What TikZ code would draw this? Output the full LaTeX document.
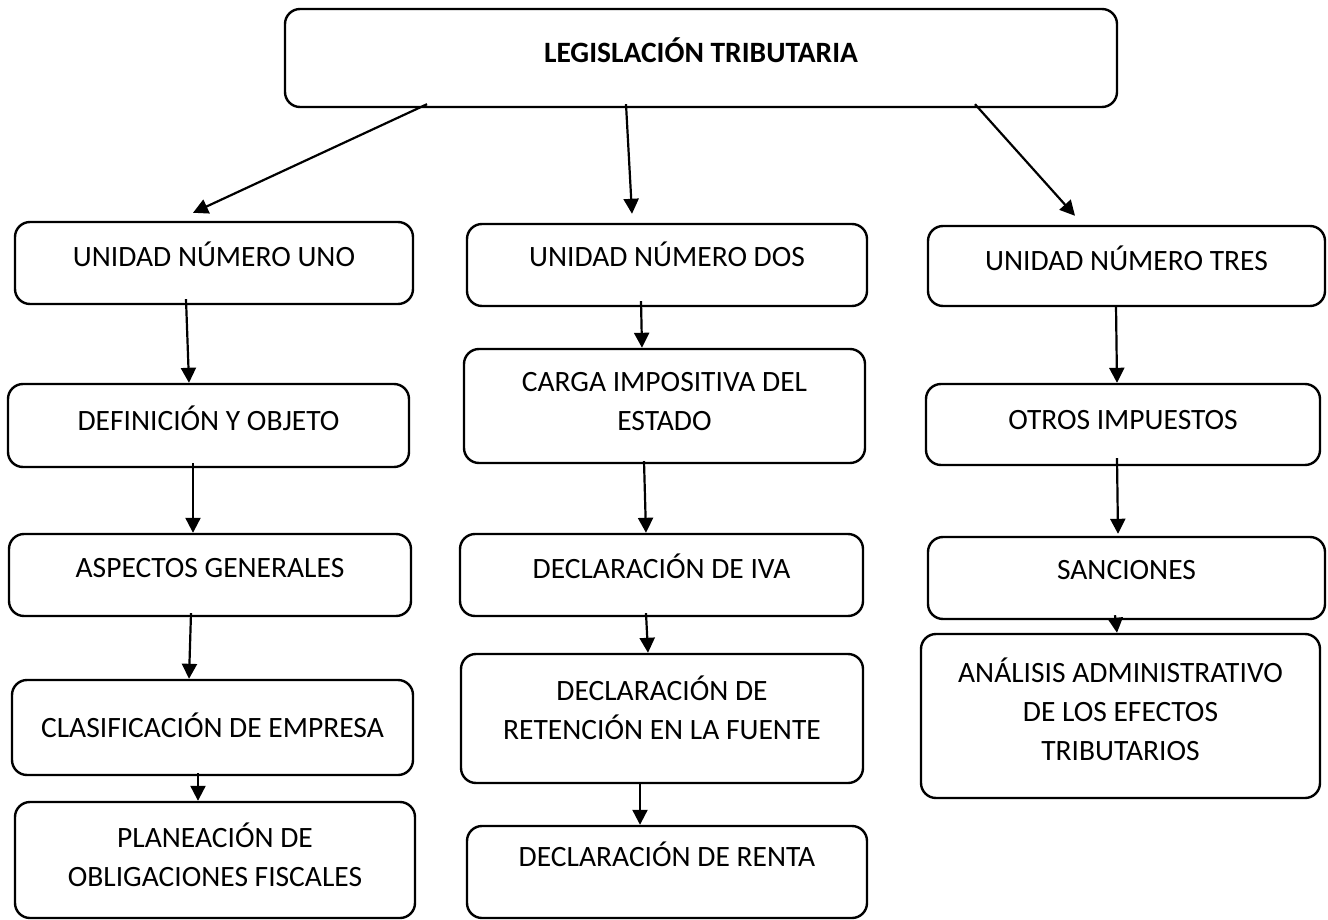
\documentclass[tikz,border=0pt]{standalone}
\usepackage{fontspec}
\setmainfont{Carlito}
\usepackage{tikz}
\usetikzlibrary{arrows.meta, positioning, calc}

\begin{document}
\begin{tikzpicture}[
    x=1pt, y=-1pt,
    box/.style={draw, rounded corners=15pt, line width=2.4pt, inner sep=0pt},
    txt/.style={align=center, inner sep=0pt, font=\fontsize{29.5}{39}\selectfont},
    arrow/.style={-{Triangle[length=15pt,width=15pt]}, line width=2.2pt}
]
    \useasboundingbox (0,0) rectangle (1328,920);

    \node[box, minimum width=832pt, minimum height=98pt, label={[txt, font=\fontsize{29.5}{39}\selectfont\bfseries, yshift=8pt]center:LEGISLACIÓN TRIBUTARIA}] (leg) at (701,58) {};

    \node[box, minimum width=398pt, minimum height=82pt, label={[txt, yshift=9pt]center:UNIDAD NÚMERO UNO}] (u1) at (214,263) {};
    \node[box, minimum width=401pt, minimum height=83pt, label={[txt, yshift=7.5pt]center:DEFINICIÓN Y OBJETO}] (def) at (208.5,425.5) {};
    \node[box, minimum width=402pt, minimum height=82pt, label={[txt, yshift=7pt]center:ASPECTOS GENERALES}] (asp) at (210,575) {};
    \node[box, minimum width=401pt, minimum height=95pt, label={[txt, yshift=2.5pt]center:CLASIFICACIÓN DE EMPRESA}] (clas) at (212.5,727.5) {};
    \node[box, minimum width=400pt, minimum height=116pt, label={[txt, yshift=5pt]center:PLANEACIÓN DE\\OBLIGACIONES FISCALES}] (plan) at (215,860) {};

    \node[box, minimum width=400pt, minimum height=82pt, label={[txt, yshift=11pt]center:UNIDAD NÚMERO DOS}] (u2) at (667,265) {};
    \node[box, minimum width=401pt, minimum height=114pt, label={[txt, yshift=4pt]center:CARGA IMPOSITIVA DEL\\ESTADO}] (carga) at (664.5,406) {};
    \node[box, minimum width=403pt, minimum height=82pt, label={[txt, yshift=9pt]center:DECLARACIÓN DE IVA}] (iva) at (661.5,575) {};
    \node[box, minimum width=402pt, minimum height=129pt, label={[txt, yshift=10.5pt]center:DECLARACIÓN DE\\RETENCIÓN EN LA FUENTE}] (ret) at (662,718.5) {};
    \node[box, minimum width=400pt, minimum height=92pt, label={[txt, yshift=18pt]center:DECLARACIÓN DE RENTA}] (renta) at (667,872) {};

    \node[box, minimum width=397pt, minimum height=80pt, label={[txt, yshift=8pt]center:UNIDAD NÚMERO TRES}] (u3) at (1126.5,266) {};
    \node[box, minimum width=394pt, minimum height=81pt, label={[txt, yshift=4.5pt]center:OTROS IMPUESTOS}] (otros) at (1123,424.5) {};
    \node[box, minimum width=397pt, minimum height=82pt, label={[txt, yshift=8pt]center:SANCIONES}] (san) at (1126.5,578) {};
    \node[box, minimum width=399pt, minimum height=164pt, label={[txt, yshift=7pt]center:ANÁLISIS ADMINISTRATIVO\\DE LOS EFECTOS\\TRIBUTARIOS}] (ana) at (1120.5,716) {};

    \draw[arrow] ([xshift=-274pt, yshift=4pt]leg.south) -- ([xshift=-21pt, yshift=8pt]u1.north);
    \draw[arrow] ([xshift=-75pt, yshift=4pt]leg.south) -- ([xshift=-35pt, yshift=9pt]u2.north);
    \draw[arrow] ([xshift=274pt, yshift=4pt]leg.south) -- ([xshift=-51.5pt, yshift=9pt]u3.north);

    \draw[arrow] ([xshift=-28pt, yshift=6pt]u1.south) -- ([xshift=-19.5pt]def.north);
    \draw[arrow] ([xshift=-15.5pt, yshift=5pt]def.south) -- ([xshift=-17pt]asp.north);
    \draw[arrow] ([xshift=-19pt, yshift=4pt]asp.south) -- ([xshift=-23.5pt]clas.north);
    \draw[arrow] ([xshift=-14.5pt, yshift=3pt]clas.south) -- ([xshift=-17pt]plan.north);

    \draw[arrow] ([xshift=-26pt, yshift=6pt]u2.south) -- ([xshift=-22.5pt]carga.north);
    \draw[arrow] ([xshift=-20.5pt, yshift=3pt]carga.south) -- ([xshift=-15.5pt]iva.north);
    \draw[arrow] ([xshift=-15.5pt, yshift=4pt]iva.south) -- ([xshift=-14pt]ret.north);
    \draw[arrow] ([xshift=-22pt]ret.south) -- ([xshift=-27pt]renta.north);

    \draw[arrow] ([xshift=-10.5pt, yshift=2pt]u3.south) -- ([xshift=-6pt]otros.north);
    \draw[arrow] ([xshift=-6pt, yshift=8pt]otros.south) -- ([xshift=-8.5pt, yshift=2pt]san.north);
    \draw[arrow] ([xshift=-11.5pt, yshift=5pt]san.south) -- ([xshift=-3.5pt]ana.north);
\end{tikzpicture}
\end{document}
